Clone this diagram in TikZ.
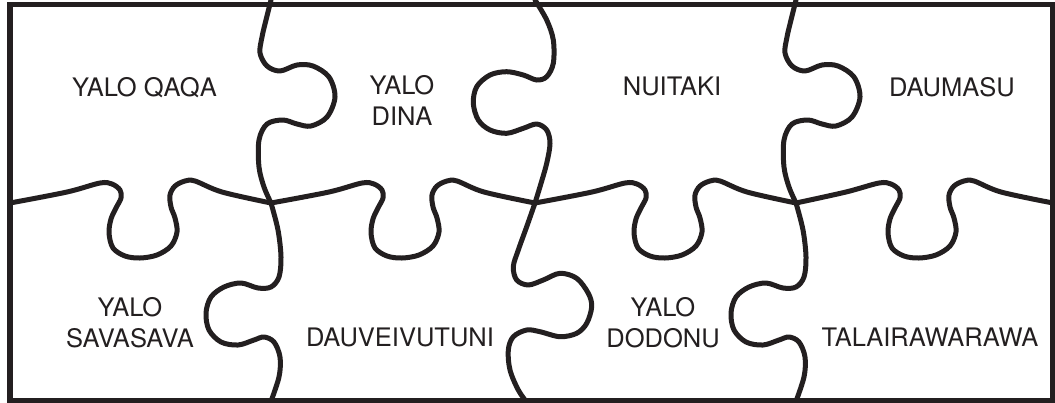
\documentclass[tikz,border=0pt]{standalone}
\usepackage{fontspec}
\setmainfont{TeX Gyre Heros}
\definecolor{ink}{HTML}{231F20}
\tikzset{
  cut/.style={draw=ink, line width=5pt, line cap=round, line join=round},
  frame/.style={draw=ink, line width=5.6pt},
  lbl/.style={font=\fontsize{25.5}{31}\selectfont, align=center, inner sep=0pt, text=ink}
}
\begin{document}
\begin{tikzpicture}[x=1pt,y=-1pt]
\useasboundingbox (0,0) rectangle (1055,402);
\clip (0,0) rectangle (1055,402);
% horizontal seam (four segments, knobs pointing down)
\foreach \a/\c/\b in {10/142/271, 271/404/535, 535/667/796, 796/921/1053}{
  \draw[cut] plot[smooth,tension=0.55] coordinates {(\a,203) (\c-75,192) (\c-42,183) (\c-30,184) (\c-22,190) (\c-21,198) (\c-26,208) (\c-31,219) (\c-33,233) (\c-29,248) (\c-17,256) (\c-2,258) (\c+15,255) (\c+29,246) (\c+35,232) (\c+33,218) (\c+29,207) (\c+28,195) (\c+33,186) (\c+43,181) (\c+53,181) (\c+80,192) (\b,203)};
}
% top seams with knob to the right
\foreach \j in {271,796}{
  \draw[cut] plot[smooth,tension=0.55] coordinates {(\j,0) (\j-5,20) (\j-9,37) (\j-11,53) (\j-4,66) (\j+9,71) (\j+26,65) (\j+42,66) (\j+58,77) (\j+64,97) (\j+56,117) (\j+40,126) (\j+26,124) (\j+12,120) (\j-4,124) (\j-12,140) (\j-12,167) (\j-7,187) (\j,203)};
}
% top seam with knob to the left
\draw[cut] plot[smooth,tension=0.55] coordinates {(535,0) (546.7,20) (553.3,40) (553.3,63.3) (546.7,76.7) (536.7,80) (523.3,75) (506.7,71.7) (490,75) (476.7,86.7) (473.3,103.3) (478.3,120) (490,130) (506.7,133.3) (523.3,128.3) (536.7,124) (546.7,130) (550,143.3) (546.7,163.3) (540,186.7) (535,203)};
% bottom seams with knob to the left
\foreach \j in {271,796}{
  \draw[cut] plot[smooth,tension=0.55] coordinates {(\j,203) (\j+7,230) (\j+10,257) (\j+8,277) (\j,287) (\j-13,288) (\j-30,283) (\j-47,287) (\j-60,297) (\j-65,313) (\j-62,330) (\j-50,342) (\j-33,345) (\j-17,340) (\j-7,337) (\j+3,342) (\j+9,357) (\j+8,377) (\j-1,404)};
}
% bottom seam with knob to the right
\draw[cut] plot[smooth,tension=0.55] coordinates {(535,203) (526.7,226.7) (518.3,250) (513.3,266.7) (516.7,280) (528.3,285) (543.3,280) (560,273.3) (576.7,278.3) (588.3,293.3) (591.7,306.7) (586.7,323.3) (576.7,333.3) (560,336.7) (540,331.7) (526.7,330) (513.3,336.7) (508.3,350) (510,370) (518.3,390) (528,404)};
% frame
\draw[frame] (9.7,4.5) rectangle (1053,400.5);
% labels
\node[lbl, anchor=base] (qaqa) at (144.5,96.7) {YALO QAQA};
\node[lbl] (dina) at (402,100) {YALO\\DINA};
\node[lbl, anchor=base] (nuitaki) at (672,95.5) {NUITAKI};
\node[lbl, anchor=base] (daumasu) at (952,96.7) {DAUMASU};
\node[lbl] (savasava) at (130,322.5) {YALO\\SAVASAVA};
\node[lbl, anchor=base] (dauv) at (400,346.7) {DAUVEIVUTUNI};
\node[lbl] (dodonu) at (663,322.5) {YALO\\DODONU};
\node[lbl, anchor=base] (talai) at (930,346.7) {TALAIRAWARAWA};
\end{tikzpicture}
\end{document}
